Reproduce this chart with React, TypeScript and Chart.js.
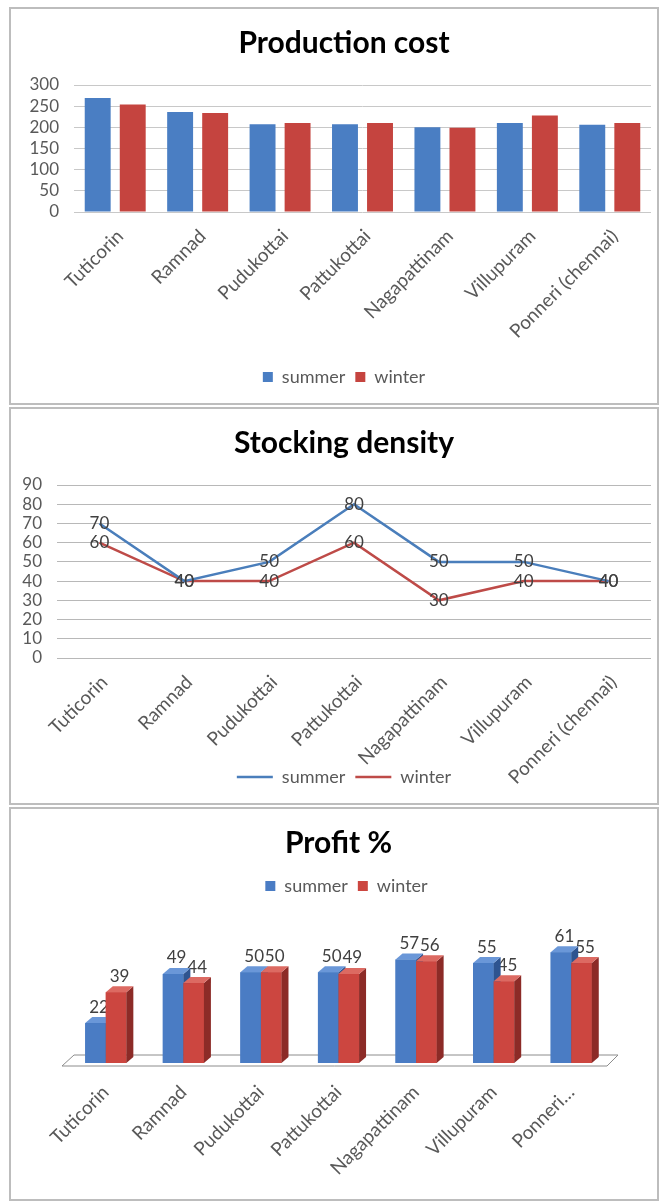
import React, { useEffect, useRef } from 'react';
import { Chart, registerables } from 'chart.js';

Chart.register(...registerables);
Chart.defaults.font.family = "Lato, 'Open Sans', sans-serif";

// ---------- data ----------
const CATEGORIES = ['Tuticorin', 'Ramnad', 'Pudukottai', 'Pattukottai', 'Nagapattinam', 'Villupuram', 'Ponneri (chennai)'];
const PROFIT_CATEGORIES = ['Tuticorin', 'Ramnad', 'Pudukottai', 'Pattukottai', 'Nagapattinam', 'Villupuram', 'Ponneri…'];
const SERIES = ['summer', 'winter'];

const COST_SUMMER = [269, 236, 207, 207, 200, 210, 206];
const COST_WINTER = [254, 234, 210, 210, 199, 228, 210];

const DENSITY_SUMMER = [70, 40, 50, 80, 50, 50, 40];
const DENSITY_WINTER = [60, 40, 40, 60, 30, 40, 40];

const PROFIT_SUMMER = [22, 49, 50, 50, 57, 55, 61];
const PROFIT_WINTER = [39, 44, 50, 49, 56, 45, 55];

const TITLES = ['Production cost', 'Stocking density', 'Profit %'];

// ---------- styles ----------
const BLUE = '#4a7ec3';
const RED = '#c5443f';
const LINE_BLUE = '#4a7ebb';
const LINE_RED = '#be4b48';
const FACES = [
  { front: '#4a7cc4', side: '#2e5490', top: '#6a97d8' },
  { front: '#cc4640', side: '#8c2b27', top: '#dc6a62' },
];
const TICK_COLOR = '#595959';
const LABEL_COLOR = '#404040';

const titleOpts = (text: string, bottom: number) => ({
  display: true,
  text,
  color: '#000',
  font: { size: 30, weight: 'bold' as const },
  padding: { top: 16, bottom },
});

const valueLabels = (hook: string, dx: number, dy: number) => ({
  id: 'valueLabels_' + hook,
  [hook]: (chart: any) => {
    const ctx = chart.ctx;
    ctx.save();
    ctx.font = "17px Lato, 'Open Sans', sans-serif";
    ctx.fillStyle = LABEL_COLOR;
    ctx.textAlign = 'center';
    ctx.textBaseline = 'middle';
    chart.data.datasets.forEach((ds: any, di: number) => {
      chart.getDatasetMeta(di).data.forEach((el: any, i: number) => {
        ctx.fillText(String(ds.data[i]), el.x + dx, el.y + dy);
      });
    });
    ctx.restore();
  },
});

// let tick labels spill outside their scale boxes; optionally nudge the legend
const unclip = (legendShift: number) => ({
  id: 'unclip',
  afterLayout(chart: any) {
    Object.values(chart.scales).forEach((s: any) => {
      if (s.isHorizontal()) s.bottom = chart.height;
      else s.left = 0;
    });
    if (chart.legend && legendShift) {
      chart.legend.left += legendShift;
      chart.legend.right += legendShift;
    }
  },
});

const DX = 7;
const DY = 6;

const bars3d = {
  id: 'bars3d',
  beforeDatasetsDraw(chart: any) {
    const { ctx, chartArea } = chart;
    const base = chart.scales.y.getPixelForValue(0);
    const l = chartArea.left;
    const r = chartArea.right;
    ctx.save();
    ctx.strokeStyle = '#8c8c8c';
    ctx.lineWidth = 1;
    ctx.fillStyle = '#ffffff';
    ctx.beginPath();
    ctx.moveTo(l - 5, base + 3);
    ctx.lineTo(r - 3, base + 3);
    ctx.lineTo(r + 8, base - 8);
    ctx.lineTo(l + 7, base - 8);
    ctx.closePath();
    ctx.fill();
    ctx.stroke();
    ctx.restore();
  },
  afterDatasetsDraw(chart: any) {
    const { ctx } = chart;
    const n = chart.data.labels.length;
    ctx.save();
    for (let i = 0; i < n; i++) {
      chart.data.datasets.forEach((_ds: any, di: number) => {
        const el = chart.getDatasetMeta(di).data[i];
        const { x, y, base, width } = el.getProps(['x', 'y', 'base', 'width'], true);
        const L = x - width / 2;
        const R = x + width / 2;
        const f = FACES[di];
        ctx.fillStyle = f.front;
        ctx.fillRect(L, y, R - L, base - y);
        ctx.fillStyle = f.side;
        ctx.beginPath();
        ctx.moveTo(R, y);
        ctx.lineTo(R + DX, y - DY);
        ctx.lineTo(R + DX, base - DY);
        ctx.lineTo(R, base);
        ctx.closePath();
        ctx.fill();
        ctx.fillStyle = f.top;
        ctx.beginPath();
        ctx.moveTo(L, y);
        ctx.lineTo(L + DX, y - DY);
        ctx.lineTo(R + DX, y - DY);
        ctx.lineTo(R, y);
        ctx.closePath();
        ctx.fill();
      });
    }
    ctx.restore();
  },
};

const xTicks = (padding: number, labelOffset: number) => ({
  autoSkip: false,
  minRotation: 45,
  maxRotation: 45,
  color: TICK_COLOR,
  font: { size: 19 },
  padding,
  labelOffset,
});

const yTicks = (stepSize: number) => ({
  stepSize,
  autoSkip: false,
  color: TICK_COLOR,
  font: { size: 17 },
  padding: 15,
});

function costConfig(): any {
  return {
    type: 'bar',
    data: {
      labels: CATEGORIES,
      datasets: [
        { label: SERIES[0], data: COST_SUMMER, backgroundColor: BLUE, barPercentage: 0.74, categoryPercentage: 0.85 },
        { label: SERIES[1], data: COST_WINTER, backgroundColor: RED, barPercentage: 0.74, categoryPercentage: 0.85 },
      ],
    },
    options: {
      responsive: false,
      animation: false,
      devicePixelRatio: 1,
      layout: { padding: { left: 26, right: 6, top: 0, bottom: 7 } },
      plugins: {
        title: titleOpts(TITLES[0], 24),
        legend: {
          position: 'bottom',
          labels: { boxWidth: 10, boxHeight: 10, font: { size: 18 }, color: TICK_COLOR, padding: 10 },
        },
        tooltip: { enabled: false },
      },
      scales: {
        x: {
          grid: { display: false },
          border: { display: false },
          ticks: xTicks(5, 5),
          afterFit: (s: any) => { s.height = 146; },
        },
        y: {
          min: 0,
          max: 300,
          ticks: yTicks(50),
          grid: { color: '#c8c8c8', drawTicks: false },
          border: { display: false },
          afterFit: (s: any) => { s.width = 37; },
        },
      },
    },
    plugins: [unclip(0)],
  };
}

function densityConfig(): any {
  return {
    type: 'line',
    data: {
      labels: CATEGORIES,
      datasets: [
        { label: SERIES[0], data: DENSITY_SUMMER, borderColor: LINE_BLUE, backgroundColor: LINE_BLUE, borderWidth: 2.5, pointRadius: 0, tension: 0 },
        { label: SERIES[1], data: DENSITY_WINTER, borderColor: LINE_RED, backgroundColor: LINE_RED, borderWidth: 2.5, pointRadius: 0, tension: 0 },
      ],
    },
    options: {
      responsive: false,
      animation: false,
      devicePixelRatio: 1,
      layout: { padding: { left: 26, right: 6, top: 0, bottom: 7 } },
      plugins: {
        title: titleOpts(TITLES[1], 24),
        legend: {
          position: 'bottom',
          labels: {
            usePointStyle: true,
            pointStyle: 'line',
            pointStyleWidth: 36,
            font: { size: 18 },
            color: TICK_COLOR,
            padding: 10,
          },
        },
        tooltip: { enabled: false },
      },
      scales: {
        x: {
          offset: true,
          grid: { display: false },
          border: { display: false },
          ticks: xTicks(5, 5),
          afterFit: (s: any) => { s.height = 100; },
        },
        y: {
          min: 0,
          max: 90,
          ticks: yTicks(10),
          grid: { color: '#b8b8b8', drawTicks: false },
          border: { display: false },
          afterFit: (s: any) => { s.width = 20; },
        },
      },
    },
    plugins: [unclip(0), valueLabels('afterDatasetsDraw', 0, 0)],
  };
}

function profitConfig(): any {
  return {
    type: 'bar',
    data: {
      labels: PROFIT_CATEGORIES,
      datasets: [
        { label: SERIES[0], data: PROFIT_SUMMER, backgroundColor: FACES[0].front, barPercentage: 1, categoryPercentage: 0.53 },
        { label: SERIES[1], data: PROFIT_WINTER, backgroundColor: FACES[1].front, barPercentage: 1, categoryPercentage: 0.53 },
      ],
    },
    options: {
      responsive: false,
      animation: false,
      devicePixelRatio: 1,
      layout: { padding: { left: 56, right: 47, top: 0, bottom: 0 } },
      plugins: {
        title: titleOpts(TITLES[2], 6),
        legend: {
          position: 'top',
          labels: { boxWidth: 10, boxHeight: 10, font: { size: 18 }, color: TICK_COLOR, padding: 10 },
        },
        tooltip: { enabled: false },
      },
      scales: {
        x: {
          grid: { display: false },
          border: { display: false },
          ticks: xTicks(10, 0),
          afterFit: (s: any) => { s.height = 136; },
        },
        y: {
          display: false,
          min: 0,
          max: 87,
        },
      },
    },
    plugins: [unclip(8), valueLabels('beforeDatasetsDraw', DX / 2, -16), bars3d],
  };
}

function ChartPanel({ top, height, config }: { top: number; height: number; config: () => any }) {
  const ref = useRef<HTMLCanvasElement>(null);
  useEffect(() => {
    const chart = new Chart(ref.current as HTMLCanvasElement, config());
    return () => chart.destroy();
  }, []);
  const w = 646;
  const h = height - 4;
  return (
    <div
      style={{
        position: 'absolute',
        left: 9,
        top,
        width: 650,
        height,
        boxSizing: 'border-box',
        border: '2px solid #bdbdbd',
        background: '#fff',
      }}
    >
      <canvas ref={ref} width={w} height={h} style={{ display: 'block', width: w, height: h }} />
    </div>
  );
}

export default function App() {
  return (
    <div style={{ position: 'fixed', left: 0, top: 0, width: 660, height: 1201, overflow: 'hidden', background: '#fff' }}>
      <ChartPanel top={7} height={398} config={costConfig} />
      <ChartPanel top={407} height={398} config={densityConfig} />
      <ChartPanel top={807} height={394} config={profitConfig} />
    </div>
  );
}
